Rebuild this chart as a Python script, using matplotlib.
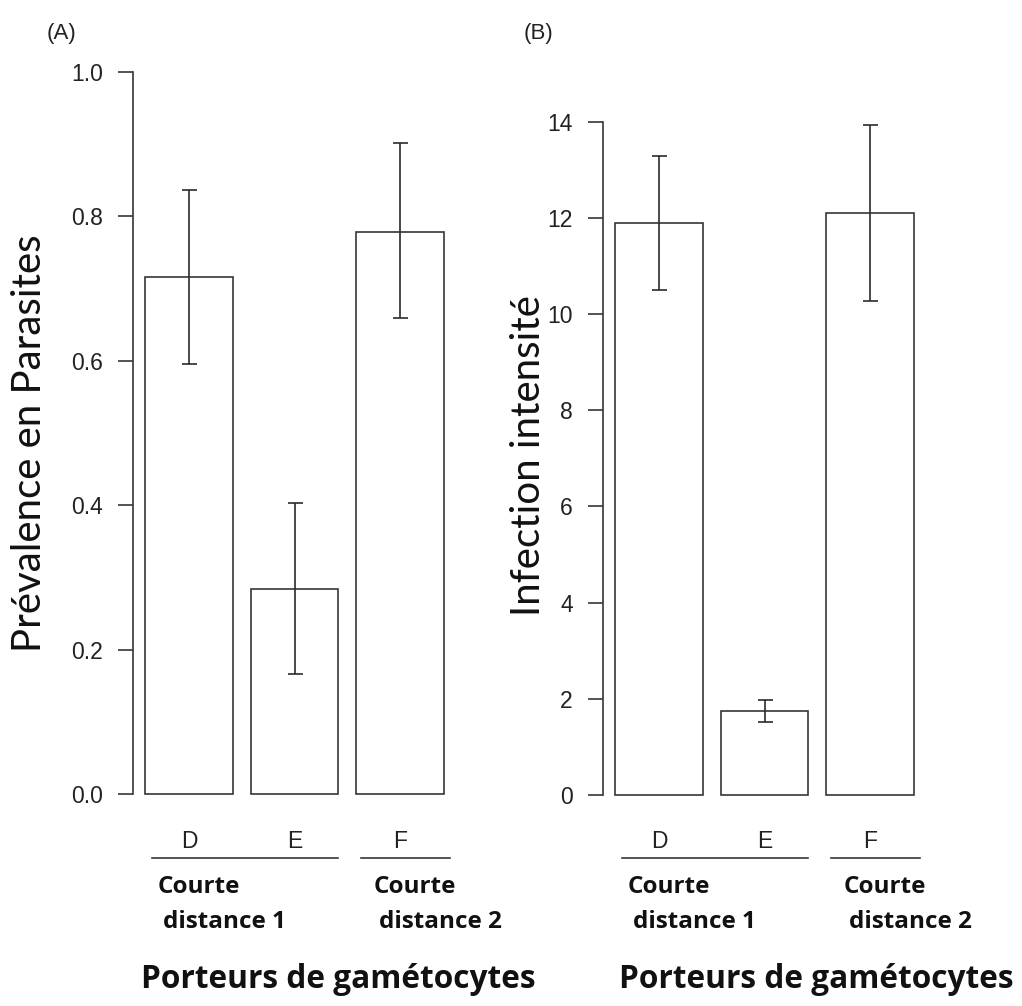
import numpy as np
import matplotlib.pyplot as plt
import matplotlib.transforms as mtransforms

# ---------------- data ----------------
groups = ['D', 'E', 'F']
prev_mean = [0.716, 0.284, 0.779]
prev_low = [0.596, 0.166, 0.659]
prev_high = [0.837, 0.403, 0.901]

inten_mean = [11.89, 1.75, 12.11]
inten_low = [10.51, 1.51, 10.27]
inten_high = [13.29, 1.97, 13.94]

group_lines = ['Courte', 'Courte']
group_lines2 = ['distance 1', 'distance 2']
xlabel = 'Porteurs de gamétocytes'

W, H = 1022, 1006
DPI = 100
fig = plt.figure(figsize=(W / DPI, H / DPI), dpi=DPI)

EDGE = '#363636'
HUMAN = ['Lato', 'DejaVu Sans']
BOLD = ['Open Sans', 'DejaVu Sans']
ARIAL = ['Liberation Sans', 'DejaVu Sans']

# R barplot geometry: width 1, space 0.2
centers = np.array([0.7, 1.9, 3.1])
XLIM = (0.064, 3.736)


def ax_at(left, right, top, bottom):
    """axes from pixel box (top/bottom in image coords)"""
    return fig.add_axes([left / W, 1 - bottom / H, (right - left) / W, (bottom - top) / H])


def fy(py):
    return 1 - py / H


def draw_panel(ax, mean, low, high, ymax, step, fmt, xlab_center):
    pad = ymax * 0.04
    ax.bar(centers, mean, width=1.0, color='white', edgecolor=EDGE, linewidth=1.2, zorder=2)
    m = np.array(mean)
    err = [m - np.array(low), np.array(high) - m]
    ax.errorbar(centers, m, yerr=err, fmt='none', ecolor='#2b2b2b', elinewidth=1.2,
                capsize=5.4, capthick=1.2, zorder=3)
    ax.set_xlim(*XLIM)
    ax.set_ylim(-pad, ymax + pad)
    for s in ['top', 'right', 'bottom']:
        ax.spines[s].set_visible(False)
    ax.spines['left'].set_bounds(0, ymax)
    ax.spines['left'].set_color(EDGE)
    ax.spines['left'].set_linewidth(1.2)
    ticks = np.arange(0, ymax + step / 2, step)
    ax.set_yticks(ticks)
    ax.set_yticklabels([fmt.format(t) for t in ticks], family=ARIAL, fontsize=16.5, color='#222222')
    ax.tick_params(axis='y', length=10.8, width=1.2, color=EDGE, pad=11)
    ax.set_xticks([])
    ax.patch.set_alpha(0)

    trans = mtransforms.blended_transform_factory(ax.transData, fig.transFigure)
    # bar letters
    for c, g in zip(centers, groups):
        ax.text(c, fy(842), g, transform=trans, ha='center', va='center',
                family=ARIAL, fontsize=16.5, color='#222222')
    # group underlines
    for x0, x1 in [(0.28, 2.39), (2.66, 3.67)]:
        ax.plot([x0, x1], [fy(858), fy(858)], transform=trans, color=EDGE, lw=1.2,
                clip_on=False)
    # group names
    for x0, l1, l2 in zip([0.34, 2.80], group_lines, group_lines2):
        ax.text(x0, fy(887), l1, transform=trans, ha='left', va='center',
                family=BOLD, fontsize=17.5, fontweight='bold', color='#111111')
        ax.text(x0 + 0.06, fy(922), l2, transform=trans, ha='left', va='center',
                family=BOLD, fontsize=17.5, fontweight='bold', color='#111111')
    fig.text(xlab_center / W, fy(980), xlabel, ha='center', va='center',
             family=BOLD, fontsize=22.8, fontweight='bold', color='#111111')


# ---------------- (A) ----------------
axA = ax_at(133, 456, 43, 823)
draw_panel(axA, prev_mean, prev_low, prev_high, 1.0, 0.2, '{:.1f}', 338)
fig.text(30 / W, fy(443), 'Prévalence en Parasites', rotation=90, ha='center', va='center',
         family=HUMAN, fontsize=29, color='#111111')
fig.text(61 / W, fy(33), '(A)', ha='center', va='center', family=ARIAL, fontsize=16, color='#222222')

# ---------------- (B) ----------------
axB = ax_at(603, 926, 94.7, 822)
draw_panel(axB, inten_mean, inten_low, inten_high, 14, 2, '{:.0f}', 816)
fig.text(528 / W, fy(456), 'Infection intensité', rotation=90, ha='center', va='center',
         family=HUMAN, fontsize=29, color='#111111')
fig.text(538 / W, fy(33), '(B)', ha='center', va='center', family=ARIAL, fontsize=16, color='#222222')

fig.savefig('out.png', dpi=DPI)
